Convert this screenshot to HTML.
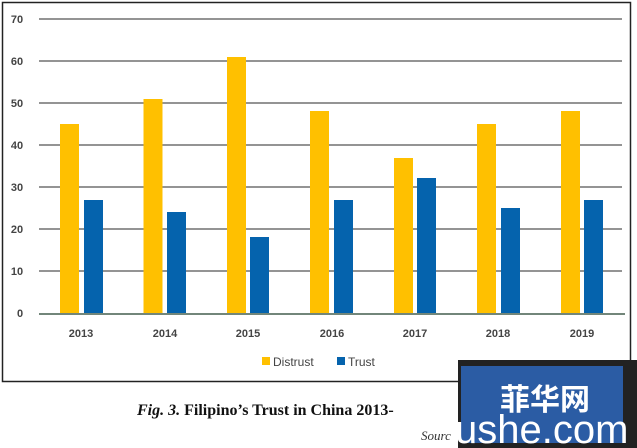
<!DOCTYPE html><html><head><meta charset="utf-8"><style>body{margin:0;width:637px;height:448px;background:#fff;overflow:hidden}</style></head><body>
<svg width="637" height="448" xmlns="http://www.w3.org/2000/svg" style="position:absolute;left:0;top:0">
<rect x="2.5" y="2.5" width="628" height="379" fill="none" stroke="#222" stroke-width="1.5"/>
<g stroke="#555" stroke-width="1.3">
<line x1="39" x2="622" y1="19" y2="19"/><line x1="39" x2="622" y1="61" y2="61"/><line x1="39" x2="622" y1="103" y2="103"/><line x1="39" x2="622" y1="145" y2="145"/><line x1="39" x2="622" y1="187" y2="187"/><line x1="39" x2="622" y1="229" y2="229"/><line x1="39" x2="622" y1="271" y2="271"/>
</g>
<g font-family="Liberation Sans, sans-serif" font-size="11" font-weight="bold" fill="#444" text-anchor="middle">
<text x="17" y="23">70</text><text x="17" y="65">60</text><text x="17" y="107">50</text><text x="17" y="149">40</text><text x="17" y="191">30</text><text x="17" y="233">20</text><text x="17" y="275">10</text><text x="20" y="317">0</text>
<text x="81" y="337">2013</text><text x="165" y="337">2014</text><text x="248" y="337">2015</text><text x="332" y="337">2016</text><text x="415" y="337">2017</text><text x="498" y="337">2018</text><text x="582" y="337">2019</text>
</g>
<g fill="#ffc000">
<rect x="60" y="124" width="19" height="189"/><rect x="143.5" y="99" width="19" height="214"/><rect x="227" y="57" width="19" height="256"/><rect x="310" y="111" width="19" height="202"/><rect x="394" y="158" width="19" height="155"/><rect x="477" y="124" width="19" height="189"/><rect x="561" y="111" width="19" height="202"/>
</g>
<g fill="#0563ad">
<rect x="84" y="200" width="19" height="113"/><rect x="167" y="212" width="19" height="101"/><rect x="250" y="237" width="19" height="76"/><rect x="334" y="200" width="19" height="113"/><rect x="417" y="178" width="19" height="135"/><rect x="501" y="208" width="19" height="105"/><rect x="584" y="200" width="19" height="113"/>
</g>
<line x1="39" x2="625" y1="314" y2="314" stroke="#1d3d2a" stroke-width="1.3"/>
<rect x="262" y="357" width="8" height="8" fill="#ffc000"/>
<rect x="337" y="357" width="8" height="8" fill="#0563ad"/>
<g font-family="Liberation Sans, sans-serif" font-size="12" fill="#444"><text x="273" y="366">Distrust</text><text x="348" y="366">Trust</text></g>
<text x="137" y="415" font-family="Liberation Serif, serif" font-size="16" font-weight="bold" fill="#111"><tspan font-style="italic">Fig. 3.</tspan> Filipino’s Trust in China 2013-</text>
<text x="421" y="440" font-family="Liberation Serif, serif" font-size="13" font-style="italic" fill="#333">Sourc</text>
<rect x="458" y="360" width="179" height="88" fill="#222"/>
<rect x="461" y="366" width="162" height="77" fill="#2b5ca4"/>
<text x="500" y="410" font-family="Noto Sans CJK SC, sans-serif" font-size="30" font-weight="bold" fill="#fff">菲华网</text>
<text x="455" y="443" font-family="Liberation Sans, sans-serif" font-size="40" fill="#fff">ushe.com</text>
</svg></body></html>
